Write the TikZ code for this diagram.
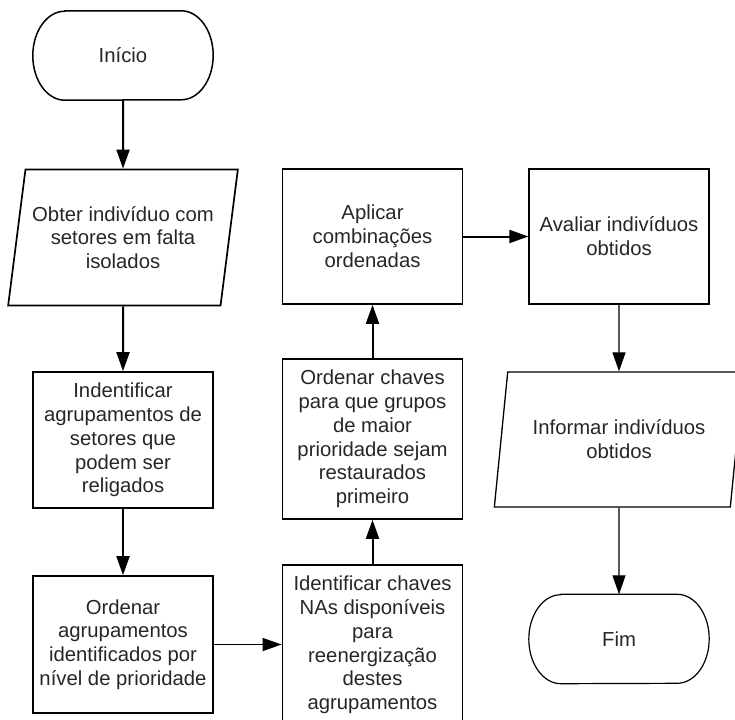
\documentclass[tikz,border=0pt]{standalone}
\usepackage{fontspec}
\setmainfont{Liberation Sans}
\usetikzlibrary{arrows.meta,shapes.geometric}
\begin{document}
\begin{tikzpicture}[x=1pt,y=-1pt,
  every node/.style={font=\fontsize{20.3}{23.8}\selectfont, text=black!85,
    align=center, inner sep=0pt},
  procbox/.style={draw, rectangle, line width=1.7pt, minimum width=180pt, minimum height=#1},
  thinbox/.style={draw, rectangle, line width=1.2pt, minimum width=180pt, minimum height=#1},
  iobox/.style={draw, trapezium, trapezium stretches=true, line width=1.7pt},
  termnode/.style={rectangle, minimum width=180pt, minimum height=89pt},
  thickflow/.style={line width=2pt, -{Triangle[length=19pt,width=13pt]}},
  thinflow/.style={line width=1.2pt, -{Triangle[length=19pt,width=13pt]}},
]
\useasboundingbox (0,0) rectangle (735,719);

% terminals (text only, outline drawn below)
\node[termnode] (start) at (123,55.5) {Início};
\node[termnode] (fim) at (619,639) {Fim};

% left column
\node[iobox, minimum width=230pt, minimum height=136pt,
      trapezium left angle=75.6, trapezium right angle=104.4] (p1) at (123,237.5)
  {Obter indivíduo com\\setores em falta\\isolados};
\node[procbox=136pt] (r2) at (123,440)
  {Indentificar\\agrupamentos de\\setores que\\podem ser\\religados};
\node[procbox=137pt] (r3) at (123,644.5)
  {Ordenar\\agrupamentos\\identificados por\\nível de prioridade};

% middle column
\node[procbox=160pt] (r4) at (372.5,645)
  {Identificar chaves\\NAs disponíveis\\para\\reenergização\\destes\\agrupamentos};
\node[procbox=160pt] (r5) at (372.5,439)
  {Ordenar chaves\\para que grupos\\de maior\\prioridade sejam\\restaurados\\primeiro};
\node[procbox=135pt] (r6) at (372.5,236.5)
  {Aplicar\\combinações\\ordenadas};

% right column
\node[thinbox=135pt] (r7) at (619,236.5)
  {Avaliar indivíduos\\obtidos};
\node[iobox, line width=1.3pt, minimum width=250pt, minimum height=135pt,
      trapezium left angle=75.1, trapezium right angle=104.9] (p2) at (619,439.5)
  {Informar indivíduos\\obtidos};

% terminal outlines with elliptical ends
\draw[line width=1.5pt]
  ([xshift=32pt]start.north west) -- ([xshift=-32pt]start.north east)
  arc[start angle=90, end angle=-90, x radius=32pt, y radius=44.5pt]
  -- ([xshift=32pt]start.south west)
  arc[start angle=270, end angle=90, x radius=32pt, y radius=44.5pt] -- cycle;
\draw[line width=1.2pt]
  ([xshift=32pt]fim.north west) -- ([xshift=-32pt]fim.north east)
  arc[start angle=90, end angle=-90, x radius=32pt, y radius=44.5pt]
  -- ([xshift=32pt]fim.south west)
  arc[start angle=270, end angle=90, x radius=32pt, y radius=44.5pt] -- cycle;

% flow
\draw[thickflow] (start.south) -- (p1.north);
\draw[thickflow] (p1.south) -- (r2.north);
\draw[thickflow] (r2.south) -- (r3.north);
\draw[thinflow] (r3.east) -- (r3.east -| r4.west);
\draw[thickflow] (r4.north) -- (r5.south);
\draw[thickflow] (r5.north) -- (r6.south);
\draw[thickflow] (r6.east) -- (r7.west);
\draw[thinflow] (r7.south) -- (p2.north);
\draw[thinflow] (p2.south) -- (fim.north);
\end{tikzpicture}
\end{document}
